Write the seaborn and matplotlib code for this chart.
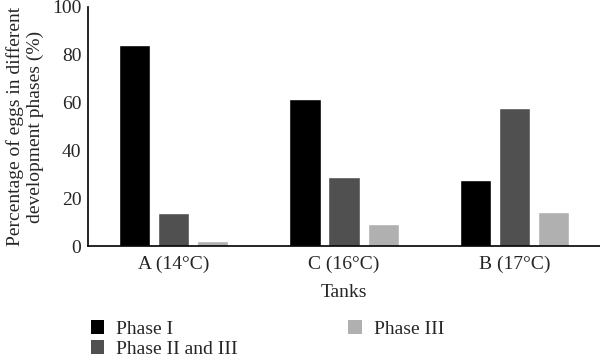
import pandas as pd
import seaborn as sns
import matplotlib.pyplot as plt
from matplotlib.patches import Patch

tanks = ["A (14°C)", "C (16°C)", "B (17°C)"]
phases = ["Phase I", "Phase II and III", "Phase III"]
phase_1 = [84, 61.4, 27.5]
phase_2_3 = [14, 28.9, 57.7]
phase_3 = [2.3, 9.2, 14.4]
colors = ["#000000", "#505050", "#b0b0b0"]

df = pd.DataFrame({
    "Tank": tanks * 3,
    "Phase": [p for p in phases for _ in tanks],
    "Value": phase_1 + phase_2_3 + phase_3,
})

sns.set_style("white")
plt.rcParams["font.family"] = ["Liberation Serif", "DejaVu Serif"]

fig = plt.figure(figsize=(6, 3.63), dpi=100)
ax = fig.add_axes([0.147, 0.322, 0.853, 0.659])
sns.barplot(data=df, x="Tank", y="Value", hue="Phase", palette=colors,
            width=0.686, gap=0.2, saturation=1, ax=ax, legend=False)

ax.set_ylim(0, 100)
ax.set_xlim(-0.5, 2.5)
ax.set_yticks([0, 20, 40, 60, 80, 100])
ax.tick_params(axis="y", length=0, labelsize=14, pad=5)
ax.tick_params(axis="x", length=0, labelsize=14, pad=7)
ax.set_xlabel("Tanks", fontsize=14, labelpad=8)
ax.set_ylabel("Percentage of eggs in different\ndevelopment phases (%)", fontsize=14,
              labelpad=6, linespacing=1.15)
sns.despine(ax=ax)
for side in ["left", "bottom"]:
    ax.spines[side].set_color("black")
    ax.spines[side].set_linewidth(1.2)

handles = [Patch(facecolor=c, edgecolor="none") for c in colors]
fig.legend(handles, phases, ncol=2, loc="upper left", bbox_to_anchor=(0.138, 0.14),
           frameon=False, fontsize=14, handlelength=0.7, handleheight=0.7,
           handletextpad=0.6, columnspacing=5.7, labelspacing=0.15, borderaxespad=0)

fig.savefig("out.png", dpi=100)
